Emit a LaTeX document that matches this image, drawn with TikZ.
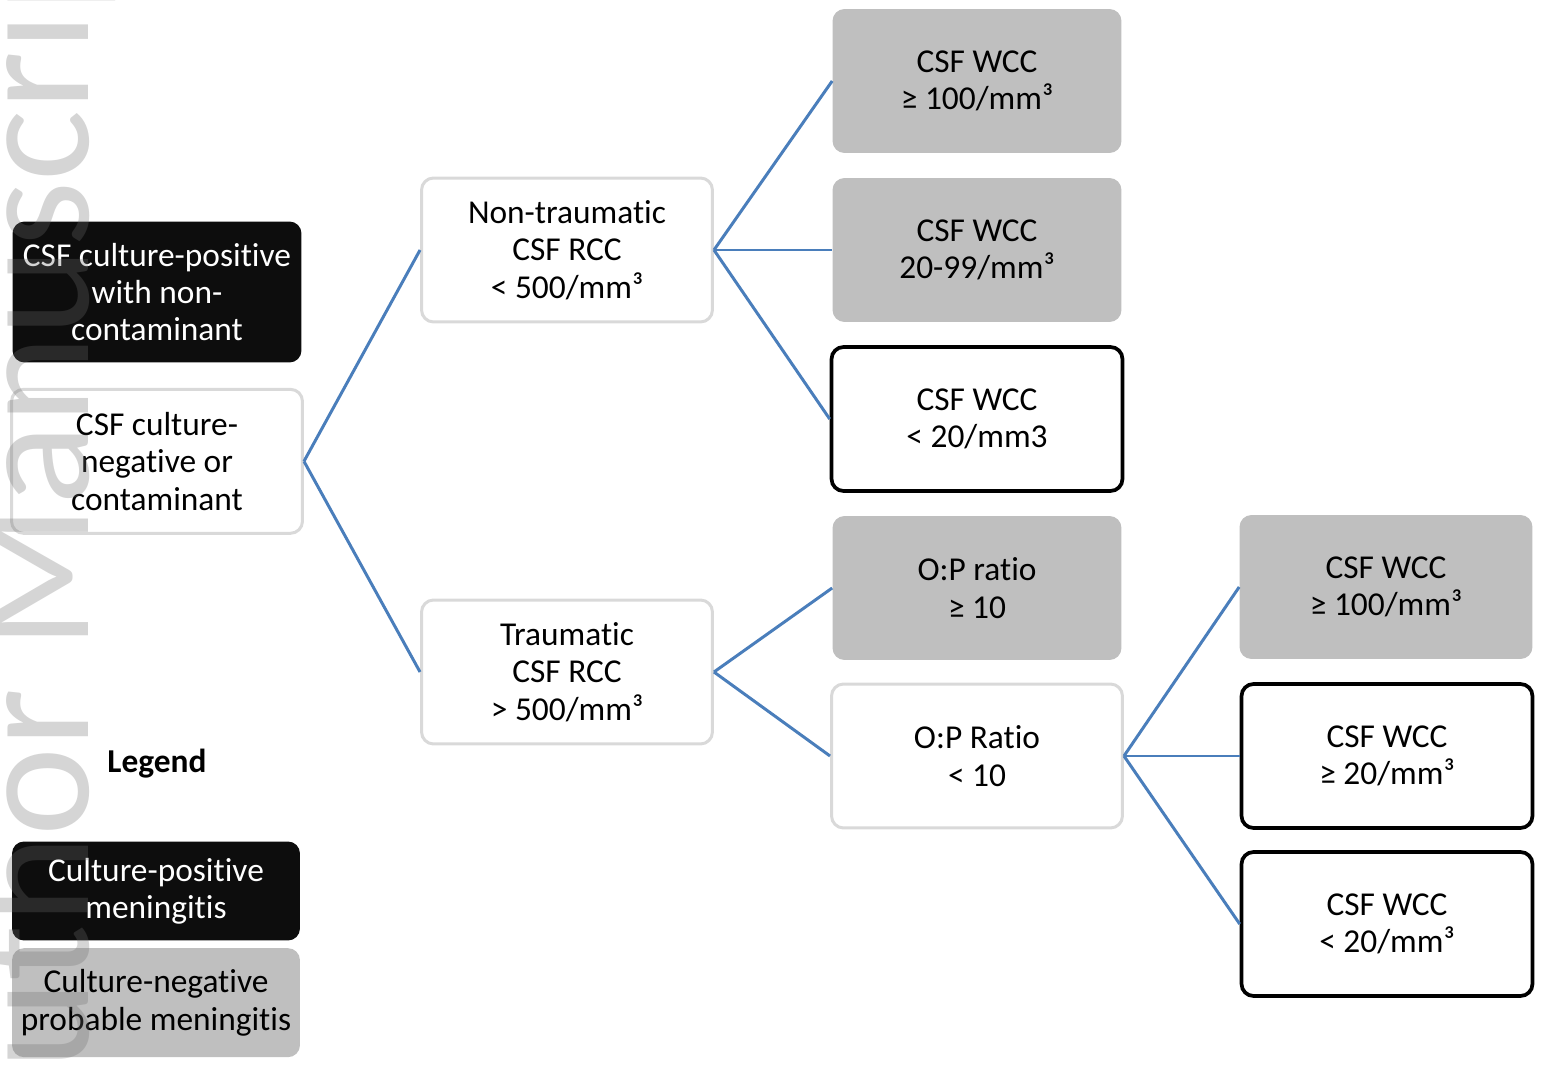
\documentclass[tikz,border=0pt]{standalone}
\usepackage{fontspec}
\setmainfont{Carlito}[Ligatures=NoCommon, Contextuals=NoAlternate]
\usepackage{tikz}
\usetikzlibrary{positioning}

\definecolor{linkblue}{RGB}{74,126,187}
\definecolor{boxgray}{RGB}{191,191,191}
\definecolor{rimgray}{RGB}{217,217,217}
\definecolor{boxblack}{RGB}{13,13,13}

\begin{document}
\begin{tikzpicture}[x=0.02cm, y=-0.02cm,
        every node/.style={font=\fontsize{19}{21.3}\selectfont, align=center, inner sep=0pt},
        box/.style={rounded corners=0.24cm, minimum width=5.82cm, minimum height=2.88cm},
        graybox/.style={box, fill=boxgray},
        blackbox/.style={box, fill=boxblack, text=white},
        plainbox/.style={box, draw=rimgray, line width=1.7pt, fill=white},
        endbox/.style={box, draw=black, line width=2.1pt, fill=white},
        link/.style={draw=linkblue, line width=1.7pt},
        wmark/.style={font=\fontsize{96}{96}\selectfont, text=black!57, opacity=0.29, rotate=90}]
        \useasboundingbox (0,0) rectangle (1543,1067);

        % first split
        \node(pos) [blackbox, minimum width=5.78cm, minimum height=2.82cm] at (157,292) {CSF culture-positive\\with non-\\contaminant};
        \node(neg) [plainbox, below=0.5cm of pos] {CSF culture-\\negative or\\contaminant};
        \node(nontr) [plainbox] at (567,250) {Non-traumatic\\CSF RCC\\< 500/mm³};
        \node(tr) [plainbox] at (567,672) {Traumatic\\CSF RCC\\> 500/mm³};

        % non-traumatic branch
        \node(w1) [graybox, minimum width=5.78cm] at (977,81) {CSF WCC\\≥ 100/mm³};
        \node(w2) [graybox, minimum width=5.78cm] at (977,250) {CSF WCC\\20-99/mm³};
        \node(w3) [endbox] at (977,419) {CSF WCC\\< 20/mm3};

        % traumatic branch
        \node(op1) [graybox, minimum width=5.78cm] at (977,588) {O:P ratio\\≥ 10};
        \node(op2) [plainbox] at (977,756) {O:P Ratio\\< 10};
        \node(v1) [graybox, minimum width=5.86cm] at (1386,587) {CSF WCC\\≥ 100/mm³};
        \node(v2) [endbox] at (1387,756) {CSF WCC\\≥ 20/mm³};
        \node(v3) [endbox] at (1387,924) {CSF WCC\\< 20/mm³};

        % legend
        \node(leg) at (157,764) {\bfseries Legend};
        \node(lpos) [blackbox, minimum width=5.76cm, minimum height=1.98cm] at (156,891) {Culture-positive\\meningitis};
        \node(lneg) [graybox, minimum width=5.76cm, minimum height=2.18cm, below=0.14cm of lpos] {Culture-negative\\probable meningitis};

        \draw[link] (neg.east) -- (nontr.west);
        \draw[link] (neg.east) -- (tr.west);
        \foreach \t in {w1,w2,w3}
            \draw[link] (nontr.east) -- (\t.west);
        \foreach \t in {op1,op2}
            \draw[link] (tr.east) -- (\t.west);
        \foreach \t in {v1,v2,v3}
            \draw[link] (op2.east) -- (\t.west);

        % watermark
        \begin{scope}
            \clip (0,0) rectangle (1543,1067);
            \node(wm2) [wmark, anchor=base west] at (88,650) {Manuscript};
            \node(wm1) [wmark, anchor=base east] at (88,688) {Author};
        \end{scope}
    \end{tikzpicture}
\end{document}
